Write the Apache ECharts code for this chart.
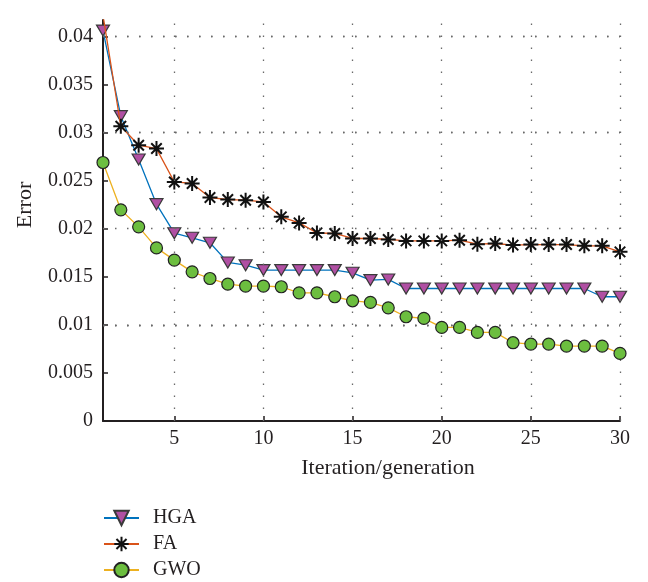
<!DOCTYPE html>
<html>
<head>
<meta charset="utf-8">
<script src="https://cdn.jsdelivr.net/npm/echarts@6/dist/echarts.min.js"></script>
<style>html,body{margin:0;padding:0;background:#fff}#c{width:648px;height:582px}</style>
</head>
<body>
<div id="c"></div>
<script>
var iterations = [1,2,3,4,5,6,7,8,9,10,11,12,13,14,15,16,17,18,19,20,21,22,23,24,25,26,27,28,29,30];
var hga = [0.0406,0.0317,0.0272,0.02255,0.01953,0.01905,0.01853,0.01649,0.0162,0.01569,0.01569,0.01569,0.01569,0.01569,0.01541,0.01465,0.01472,0.01378,0.01378,0.01378,0.01378,0.01378,0.01378,0.01378,0.01378,0.01378,0.01378,0.01378,0.01292,0.01292];
var fa = [0.04218,0.03065,0.02868,0.02833,0.02486,0.0247,0.02324,0.02303,0.02296,0.02278,0.02123,0.0206,0.01956,0.0195,0.01898,0.01898,0.01888,0.01873,0.01873,0.01873,0.0188,0.01839,0.01846,0.01829,0.01835,0.01835,0.01835,0.01822,0.01822,0.01759];
var gwo = [0.02688,0.02196,0.02019,0.018,0.01673,0.01551,0.01482,0.01423,0.01403,0.01403,0.01396,0.01333,0.01333,0.01292,0.0125,0.01233,0.01177,0.01084,0.01067,0.00973,0.00973,0.00921,0.00921,0.00814,0.008,0.008,0.00779,0.00779,0.00779,0.00703];
var xTicks = [5,10,15,20,25,30];
var yGrid = [0.005,0.01,0.015,0.02,0.025,0.03,0.035,0.04];
var seriesNames = ['HGA','FA','GWO'];

function pairs(arr){ return iterations.map(function(x,i){ return [x, arr[i]]; }); }

var font = '"Liberation Serif", "DejaVu Serif", serif';
var gridLines = xTicks.map(function(v){ return {xAxis: v}; }).concat(yGrid.map(function(v){ return {yAxis: v}; }));

var chart = echarts.init(document.getElementById('c'));
chart.setOption({
  animation: false,
  grid: {left: 103, right: 28, top: 20, bottom: 161, containLabel: false},
  xAxis: {
    type: 'value', min: 1, max: 30,
    axisLine: {show: true, lineStyle: {color: '#231f20', width: 2}},
    axisTick: {show: true, inside: true, length: 5, customValues: xTicks, lineStyle: {color: '#231f20', width: 1.5}},
    axisLabel: {customValues: xTicks, margin: 8, fontFamily: font, fontSize: 20, color: '#231f20'},
    splitLine: {show: false}
  },
  yAxis: {
    type: 'value', min: 0, max: 0.0417, interval: 0.005,
    axisLine: {show: true, lineStyle: {color: '#231f20', width: 2}},
    axisTick: {show: true, inside: true, length: 5, lineStyle: {color: '#231f20', width: 1.5}},
    axisLabel: {showMaxLabel: false, margin: 10, fontFamily: font, fontSize: 20, color: '#231f20',
      formatter: function(v){ return String(parseFloat(v.toFixed(4))); }},
    splitLine: {show: false}
  },
  legend: {
    orient: 'vertical', left: 103, top: 508, padding: 0, itemWidth: 35, itemHeight: 18, itemGap: 6,
    height: 75,
    data: seriesNames,
    textStyle: {fontFamily: font, fontSize: 20, lineHeight: 20, color: '#231f20', padding: [0,0,0,9]}
  },
  graphic: [
    {type: 'text', x: 25, y: 205, rotation: Math.PI/2, style: {text: 'Error', fontFamily: font, fontSize: 22, fill: '#231f20', textAlign: 'center', textVerticalAlign: 'middle'}},
    {type: 'text', x: 388, y: 468, style: {text: 'Iteration/generation', fontFamily: font, fontSize: 22, fill: '#231f20', textAlign: 'center', textVerticalAlign: 'middle'}}
  ],
  series: [
    {
      name: 'HGA', type: 'line', data: pairs(hga), z: 3,
      lineStyle: {color: '#0072BD', width: 1.3},
      symbol: 'triangle', symbolSize: [13, 11], symbolRotate: 180,
      itemStyle: {color: '#B04FA3', borderColor: '#3a3a3a', borderWidth: 1.2},
      markLine: {
        silent: true, symbol: 'none', label: {show: false}, animation: false,
        lineStyle: {color: '#6a6a6a', width: 1.3, type: [1.5, 10.5]},
        data: gridLines
      }
    },
    {
      name: 'FA', type: 'line', data: pairs(fa), z: 4,
      lineStyle: {color: '#D95319', width: 1.3},
      symbol: 'path://M5,0L5,10M0,5L10,5M1.5,1.5L8.5,8.5M1.5,8.5L8.5,1.5', symbolSize: 15,
      itemStyle: {color: '#111', borderColor: '#111', borderWidth: 2}
    },
    {
      name: 'GWO', type: 'line', data: pairs(gwo), z: 5,
      lineStyle: {color: '#EDB120', width: 1.3},
      symbol: 'circle', symbolSize: 12,
      itemStyle: {color: '#6CBE3F', borderColor: '#222', borderWidth: 1.2}
    }
  ]
});
</script>
</body>
</html>
